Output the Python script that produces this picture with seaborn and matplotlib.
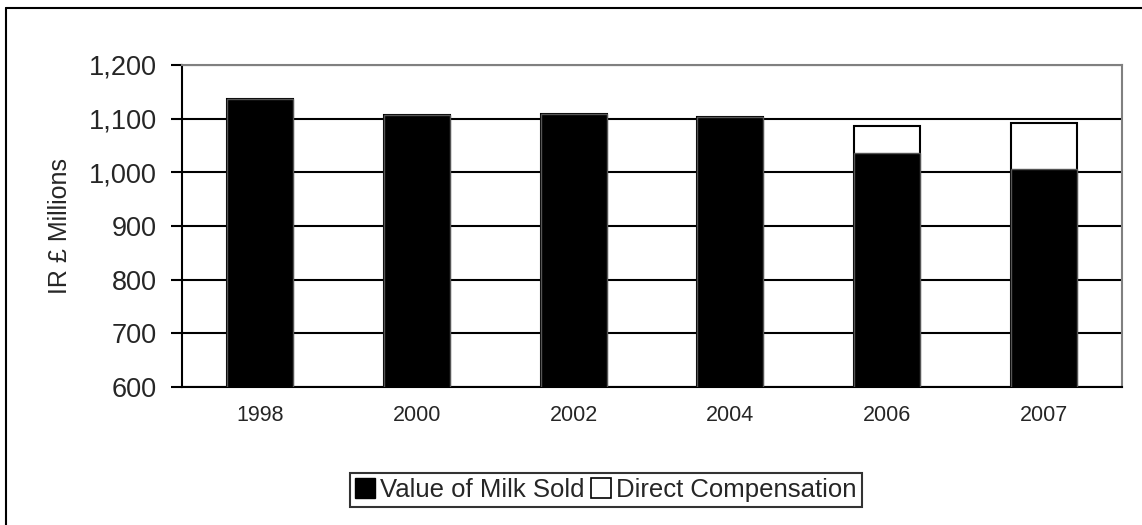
import matplotlib
import pandas as pd
import seaborn as sns
from matplotlib import pyplot as plt
from matplotlib.lines import Line2D
matplotlib.use("Agg")

years = ['1998', '2000', '2002', '2004', '2006', '2007']
milk_sold = [1136, 1107, 1109, 1104, 1036, 1007]
direct_comp = [0, 0, 0, 0, 51, 84]

sns.set_style('white')
plt.rcParams['font.family'] = ['Liberation Sans', 'DejaVu Sans']

df = pd.DataFrame(dict(year=years, milk=milk_sold, comp=direct_comp))
df['total'] = df['milk'] + df['comp']

fig = plt.figure(figsize=(11.42, 5.25), dpi=100)
ax = fig.add_axes([182 / 1142, 1 - 387 / 525, 940 / 1142, 322 / 525])

# stacked: total first (white), milk drawn over it in black
sns.barplot(data=df, x='year', y='total', color='white', edgecolor='black',
            linewidth=1.5, width=0.42, saturation=1, ax=ax, zorder=3)
sns.barplot(data=df, x='year', y='milk', color='black', edgecolor='#555555',
            linewidth=1, width=0.42, saturation=1, ax=ax, zorder=4)

ax.set_ylim(600, 1200)
ax.set_xlim(-0.5, 5.5)
ax.set_yticks(range(600, 1201, 100))
ax.set_yticklabels([f'{v:,}' for v in range(600, 1201, 100)], fontsize=19.5)
ax.yaxis.grid(True, color='black', linewidth=1.5)
ax.set_axisbelow(True)

ax.set_xticks(range(len(years)))
ax.set_xticklabels(years, fontsize=15.5)
ax.set_xticks([i - 0.5 for i in range(len(years) + 1)], minor=True)
ax.tick_params(axis='x', which='major', length=0, pad=13)
ax.tick_params(axis='x', which='minor', length=7, width=1.5, color='black', direction='out')
ax.tick_params(axis='y', length=8, width=1.5, color='black', direction='out', left=True, pad=10)

ax.set_xlabel('')
ax.set_ylabel('IR £ Millions', fontsize=18, labelpad=12)

for side in ['left', 'bottom']:
    ax.spines[side].set_color('black')
    ax.spines[side].set_linewidth(1.5)
for side in ['top', 'right']:
    ax.spines[side].set_color('#808080')
    ax.spines[side].set_linewidth(1.5)

handles = [
    Line2D([], [], marker='s', linestyle='none', markersize=14,
           markerfacecolor='black', markeredgecolor='black'),
    Line2D([], [], marker='s', linestyle='none', markersize=14,
           markerfacecolor='white', markeredgecolor='black', markeredgewidth=1.2),
]
leg = fig.legend(handles, ['Value of Milk Sold', 'Direct Compensation'],
                 loc='center', bbox_to_anchor=(606 / 1142, 1 - 490 / 525), ncol=2,
                 fontsize=18.5, frameon=True, fancybox=False, edgecolor='black',
                 handlelength=0.75, handletextpad=0.2, columnspacing=0.3,
                 borderpad=0.2, borderaxespad=0)
leg.get_frame().set_linewidth(1.5)

# outer chart border (only left and top edges fall inside the picture)
fig.add_artist(Line2D([6 / 1142, 6 / 1142], [0, 1 - 8 / 525], color='black', lw=1.5))
fig.add_artist(Line2D([6 / 1142, 1], [1 - 8 / 525, 1 - 8 / 525], color='black', lw=1.5))

fig.savefig('out.png', dpi=100)
